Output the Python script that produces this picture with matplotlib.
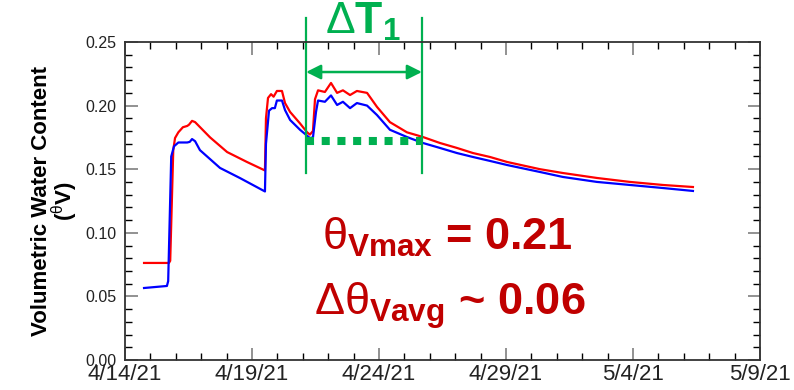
"""
Volumetric water content after irrigation events, two sensors.
"""

import datetime as dt

import matplotlib.pyplot as plt
import matplotlib.dates as mdates
from matplotlib.ticker import MultipleLocator, FuncFormatter

plt.rcParams["font.family"] = ["Liberation Sans", "DejaVu Sans"]
plt.rcParams["mathtext.fontset"] = "custom"
plt.rcParams["mathtext.rm"] = "Liberation Sans"
plt.rcParams["mathtext.it"] = "Liberation Sans"
plt.rcParams["mathtext.bf"] = "Liberation Sans:bold"

start = dt.datetime(2021, 4, 14)

# Days since 4/14/21 and readings
red_days = [0.75, 1.73, 1.78, 1.90, 1.97, 2.10, 2.28, 2.45, 2.52, 2.64, 2.76,
            3.35, 4.02, 4.80, 5.51, 5.55, 5.63, 5.75, 5.85, 5.98, 6.18, 6.30,
            6.50, 6.89, 7.17, 7.28, 7.40, 7.48, 7.60, 7.87, 8.11, 8.35, 8.58,
            8.86, 9.13, 9.53, 9.92, 10.43, 11.10, 11.73, 12.40, 13.07, 13.70,
            14.37, 15.04, 16.34, 17.24, 18.58, 19.88, 21.18, 22.36]
red_vwc = [0.0763, 0.0763, 0.078, 0.165, 0.1745, 0.179, 0.183, 0.184, 0.185, 0.188, 0.187,
           0.175, 0.1635, 0.1557, 0.149, 0.190, 0.206, 0.209, 0.207, 0.2115, 0.2115, 0.202,
           0.195, 0.186, 0.179, 0.1772, 0.180, 0.205, 0.212, 0.2107, 0.2178, 0.210, 0.212,
           0.2083, 0.2115, 0.210, 0.199, 0.187, 0.179, 0.1753, 0.1706, 0.1667, 0.1627,
           0.1596, 0.1557, 0.150, 0.147, 0.1431, 0.140, 0.1376, 0.136]

blue_days = [0.75, 1.65, 1.70, 1.82, 1.93, 2.10, 2.45, 2.55, 2.64, 2.76, 2.95,
             3.74, 4.53, 5.51, 5.55, 5.67, 5.79, 5.90, 5.98, 6.18, 6.30, 6.50,
             6.89, 7.28, 7.40, 7.52, 7.60, 7.87, 8.11, 8.35, 8.58, 8.86, 9.13,
             9.53, 9.92, 10.43, 11.10, 11.73, 12.40, 13.07, 13.70, 14.37, 15.04,
             16.34, 17.24, 18.58, 19.88, 21.18, 22.36]
blue_vwc = [0.0566, 0.0582, 0.062, 0.160, 0.168, 0.171, 0.171, 0.1715, 0.1737, 0.172, 0.165,
            0.151, 0.143, 0.1325, 0.170, 0.196, 0.198, 0.198, 0.204, 0.204, 0.1965, 0.1887,
            0.181, 0.1745, 0.175, 0.195, 0.204, 0.203, 0.208, 0.2005, 0.203, 0.198, 0.202,
            0.200, 0.1926, 0.181, 0.1753, 0.1706, 0.1667, 0.1627, 0.1596, 0.1565, 0.1533,
            0.1478, 0.1439, 0.140, 0.1376, 0.1352, 0.1329]

# Delta T1 window and the reference level
window_days = [7.13, 11.69]
window_level = 0.1722

red_t = [start + dt.timedelta(days=d) for d in red_days]
blue_t = [start + dt.timedelta(days=d) for d in blue_days]
win_t = [start + dt.timedelta(days=d) for d in window_days]

green = "#00B050"
dark_red = "#C00000"

fig = plt.figure(figsize=(7.94, 3.9), dpi=100)
ax = fig.add_axes([125 / 794, 30 / 390, 635 / 794, 318 / 390])

ax.plot(red_t, red_vwc, color="#FF0000", lw=1.6)
ax.plot(blue_t, blue_vwc, color="#0000FF", lw=1.6)

ax.set_xlim(start, start + dt.timedelta(days=25))
ax.set_ylim(0, 0.25)

ax.xaxis.set_major_locator(mdates.DayLocator(bymonthday=[4, 9, 14, 19, 24, 29]))
ax.xaxis.set_minor_locator(mdates.DayLocator())
ax.xaxis.set_major_formatter(FuncFormatter(
    lambda v, pos: "{d.month}/{d.day}/{d:%y}".format(d=mdates.num2date(v))))
ax.yaxis.set_major_locator(MultipleLocator(0.05))
ax.yaxis.set_minor_locator(MultipleLocator(0.01))
ax.yaxis.set_major_formatter(FuncFormatter(lambda v, pos: f"{v:.2f}"))

ax.tick_params(which="both", direction="in", top=True, right=True)
ax.tick_params(which="major", length=9, width=1.2, color="#7f7f7f")
ax.tick_params(which="minor", length=5, width=1.0, color="black")
ax.tick_params(axis="x", which="major", labelsize=16, pad=3, labelcolor="#222222")
ax.tick_params(axis="y", which="major", labelsize=11.5, pad=6, labelcolor="#222222")
for s in ax.spines.values():
    s.set_linewidth(1.3)
    s.set_color("#333333")

ax.set_ylabel("Volumetric Water Content\n(" + r"$^{\theta}$" + "V)",
              fontsize=16, fontweight="bold", linespacing=0.9, labelpad=4)

# Delta T1 markers
for t in win_t:
    ax.plot([t, t], [0.147, 0.269], color=green, lw=1.6, clip_on=False)
ax.annotate("", xy=(win_t[1], 0.2264), xytext=(win_t[0], 0.2264),
            arrowprops=dict(arrowstyle="<|-|>", color=green, lw=1.8,
                            mutation_scale=22, shrinkA=0, shrinkB=0),
            annotation_clip=False)
ax.plot(win_t, [window_level, window_level], color=green, lw=5.8,
        dashes=(1, 0.95), dash_capstyle="butt")
ax.text(0.375, 1.025, r"$\Delta\mathbf{T}_{\mathbf{1}}$", transform=ax.transAxes,
        color=green, fontsize=32, ha="center", va="baseline")

# Summary text
ax.text(0.310, 0.346, r"$\theta_{\mathbf{Vmax}}$ = 0.21", transform=ax.transAxes,
        color=dark_red, fontsize=32.5, fontweight="bold", va="baseline")
ax.text(0.297, 0.1415, r"$\Delta\theta_{\mathbf{Vavg}}$ ~ 0.06", transform=ax.transAxes,
        color=dark_red, fontsize=32.5, fontweight="bold", va="baseline")

plt.savefig("out.png", dpi=100)
